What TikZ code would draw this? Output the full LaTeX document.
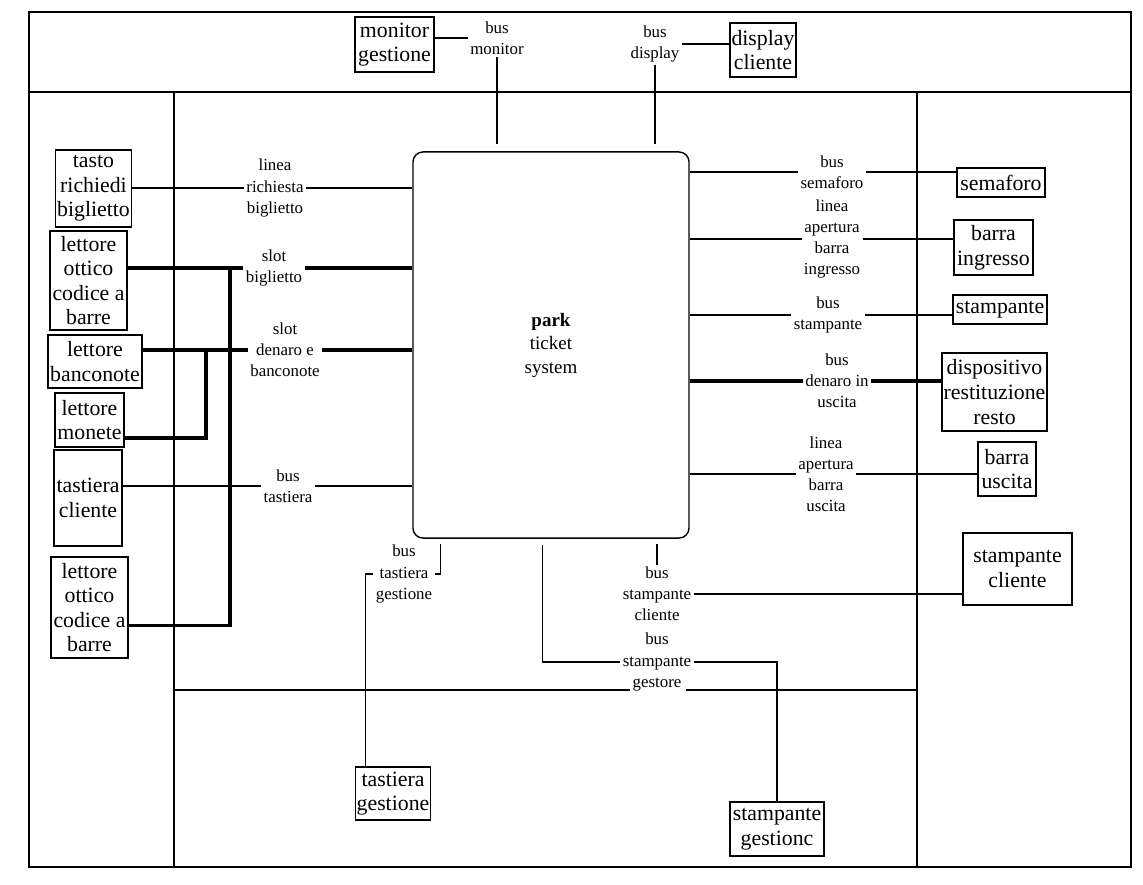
\documentclass[tikz,border=0pt]{standalone}
\usepackage{fontspec}
\setmainfont{Liberation Serif}

\begin{document}
\begin{tikzpicture}[x=0.025cm, y=-0.025cm,
  unit/.style={draw, line width=1pt, align=center, inner sep=1pt,
    font=\fontsize{15.5}{17.5}\selectfont},
  lbl/.style={align=center, inner sep=1.5pt, font=\fontsize{12}{15}\selectfont},
  wire/.style={line width=1pt},
  bus/.style={line width=2.4pt},
  frame/.style={line width=1.3pt}]
  \useasboundingbox (0,0) rectangle (1143,885);
  \draw[frame] (29,12) rectangle (1131,867);
  \draw[frame] (29,92) -- (1131,92);
  \draw[frame] (174,92) -- (174,867);
  \draw[frame] (917,92) -- (917,867);
  \draw[frame] (174,690) -- (630,690);
  \draw[frame] (686,690) -- (917,690);

  \node[draw, line width=1pt, rounded corners=0.25cm, minimum width=6.9cm, minimum height=9.65cm,
    align=center, font=\fontsize{13.5}{16.7}\selectfont] (park) at (551,345) {\textbf{park}\\ticket\\system};

  \node[unit, minimum width=1.975cm, minimum height=1.375cm] (mong) at (394.5,44.5) {monitor\\gestione};
  \node[unit, minimum width=1.65cm, minimum height=1.35cm] (disp) at (763,50) {display\\cliente};
  \node[unit, minimum width=1.825cm, minimum height=1.925cm] (tasto) at (93.5,188.5) {tasto\\richiedi\\biglietto};
  \node[unit, minimum width=1.925cm, minimum height=2.475cm] (ott1) at (88.5,280.5) {lettore\\ottico\\codice a\\barre};
  \node[unit, minimum width=2.35cm, minimum height=1.325cm] (banc) at (95,361.5) {lettore\\banconote};
  \node[unit, minimum width=1.725cm, minimum height=1.35cm] (monete) at (89.5,420) {lettore\\monete};
  \node[unit, minimum width=1.7cm, minimum height=2.4cm] (tcli) at (88,498) {tastiera\\cliente};
  \node[unit, minimum width=1.925cm, minimum height=2.525cm] (ott2) at (89.5,607.5) {lettore\\ottico\\codice a\\barre};
  \node[unit, minimum width=2.2cm, minimum height=0.725cm] (sem) at (1001,182.5) {semaforo};
  \node[unit, minimum width=1.975cm, minimum height=1.375cm] (bing) at (993.5,247.5) {barra\\ingresso};
  \node[unit, minimum width=2.35cm, minimum height=0.725cm] (stamp) at (1000,309.5) {stampante};
  \node[unit, minimum width=2.625cm, minimum height=1.95cm] (resto) at (994.5,392) {dispositivo\\restituzione\\resto};
  \node[unit, minimum width=1.45cm, minimum height=1.35cm] (bout) at (1007,469) {barra\\uscita};
  \node[unit, minimum width=2.725cm, minimum height=1.8cm] (scli) at (1017.5,569) {stampante\\cliente};
  \node[unit, minimum width=1.85cm, minimum height=1.325cm] (tgest) at (393,793.5) {tastiera\\gestione};
  \node[unit, minimum width=2.35cm, minimum height=1.35cm] (sgest) at (777,829) {stampante\\gestionc};

  \node[lbl] (lmon) at (497,38) {bus\\monitor};
  \node[lbl] (ldisp) at (655,44) {bus\\display};
  \node[lbl] (lrich) at (275,188) {linea\\richiesta\\biglietto};
  \node[lbl] (lslot) at (274,268) {slot\\biglietto};
  \node[lbl] (lden) at (285,350) {slot\\denaro e\\banconote};
  \node[lbl] (lbt) at (288,486) {bus\\tastiera};
  \node[lbl] (lsem) at (832,172) {bus\\semaforo};
  \node[lbl] (lbin) at (832,239) {linea\\apertura\\barra\\ingresso};
  \node[lbl] (lstp) at (828,315) {bus\\stampante};
  \node[lbl] (lresto) at (837,381) {bus\\denaro in\\uscita};
  \node[lbl] (lbout) at (826,474) {linea\\apertura\\barra\\uscita};
  \node[lbl] (ltg) at (404,574) {bus\\tastiera\\gestione};
  \node[lbl] (lsc) at (657,594) {bus\\stampante\\cliente};
  \node[lbl] (lsg) at (657,662) {bus\\stampante\\gestore};

  \coordinate (jslot) at (230,268);
  \coordinate (jden) at (206,350);

  \draw[wire] (lmon -| mong.east) -- (lmon);
  \draw[wire] (lmon.south) -- ([yshift=0.175cm]lmon |- park.north);
  \draw[wire] (ldisp) -- (ldisp -| disp.west);
  \draw[wire] (ldisp.south) -- ([yshift=0.175cm]ldisp |- park.north);

  \draw[wire] (lrich -| tasto.east) -- (lrich);
  \draw[wire] (lrich) -- (lrich -| park.west);
  \draw[bus] (lslot -| ott1.east) -- (lslot);
  \draw[bus] (lslot) -- (lslot -| park.west);
  \draw[bus] (ott2.east) ++(0,18) -| (jslot);
  \draw[bus] (lden -| banc.east) -- (lden);
  \draw[bus] (lden) -- (lden -| park.west);
  \draw[bus] (monete.east) ++(0,18) -| (jden);
  \draw[wire] (lbt -| tcli.east) -- (lbt);
  \draw[wire] (lbt) -- (lbt -| park.west);

  \draw[wire] (lsem -| park.east) -- (lsem);
  \draw[wire] (lsem) -- (lsem -| sem.west);
  \draw[wire] (lbin -| park.east) -- (lbin);
  \draw[wire] (lbin) -- (lbin -| bing.west);
  \draw[wire] (lstp -| park.east) -- (lstp);
  \draw[wire] (lstp) -- (lstp -| stamp.west);
  \draw[bus] (lresto -| park.east) -- (lresto);
  \draw[bus] (lresto) -- (lresto -| resto.west);
  \draw[wire] (lbout -| park.east) -- (lbout);
  \draw[wire] (lbout) -- (lbout -| bout.west);

  \draw[wire] (park.south west) ++(28,5) |- (ltg.east);
  \draw[wire] (ltg.west) -| ([xshift=0.275cm]tgest.north west);
  \draw[wire] ([yshift=-0.125cm]lsc |- park.south) -- (lsc.north);
  \draw[wire] (lsc) -- (lsc -| scli.west);
  \draw[wire] (park.south west) ++(130,6) |- (lsg.west);
  \draw[wire] (lsg.east) -| (sgest.north);
\end{tikzpicture}
\end{document}
